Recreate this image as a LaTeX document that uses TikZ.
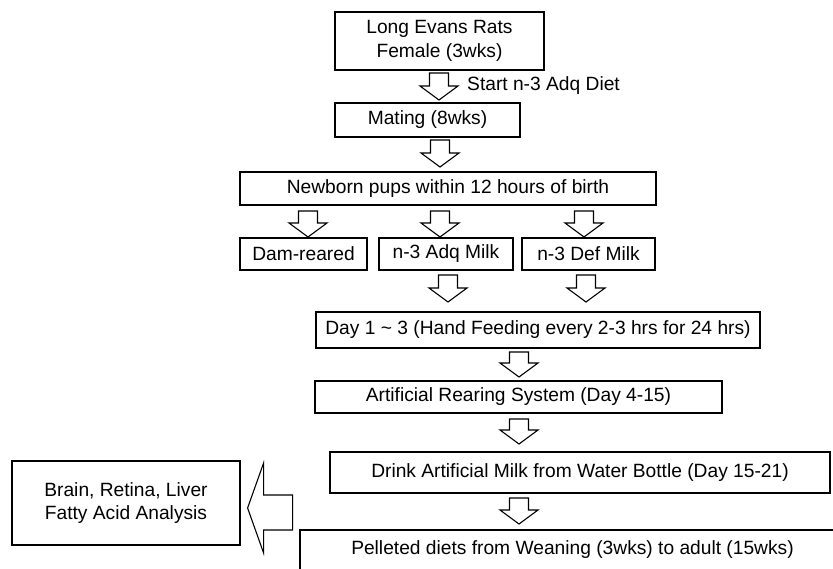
\documentclass[tikz,border=0pt]{standalone}
\usepackage{fontspec}
\setmainfont{Liberation Sans}
\newcommand\darrow[3]{%
  \draw[blk] ({#1-9.5},#2) -- ({#1+9.5},#2) -- ({#1+9.5},{#3-14}) -- ({#1+19},{#3-14}) -- (#1,#3) -- ({#1-19},{#3-14}) -- ({#1-9.5},{#3-14}) -- cycle;}
\begin{document}
\begin{tikzpicture}[x=1pt,y=-1pt,
  box/.style={draw, line width=1.2pt, inner sep=0pt, align=center, font=\fontsize{19.2}{23.5}\selectfont},
  boldbox/.style={box, line width=2.4pt},
  blk/.style={draw, line width=1.1pt, fill=white, line join=miter},
  lbl/.style={inner sep=0pt, font=\fontsize{19.2}{23.5}\selectfont}]
\useasboundingbox (0,0) rectangle (833,569);
\clip (0,0) rectangle (833,569);
\node[box, minimum width=209pt, minimum height=58pt] (rats) at (439.5,41) {Long Evans Rats\\Female (3wks)};
\darrow{439}{73}{100}
\node[lbl, anchor=west] (diet) at (467,86) {Start n-3 Adq Diet};
\node[box, minimum width=185pt, minimum height=34pt] (mating) at (427.5,120) {Mating (8wks)};
\darrow{440}{140}{167}
\node[box, minimum width=416pt, minimum height=33pt] (newborn) at (448,188.5) {Newborn pups within 12 hours of birth};
\darrow{308}{211}{237}
\darrow{440}{211}{237}
\darrow{584}{211}{237}
\node[boldbox, minimum width=127pt, minimum height=32pt] (dam) at (303.5,254) {Dam-reared};
\node[boldbox, minimum width=134pt, minimum height=32pt] (adq) at (446,254) {n-3 Adq Milk};
\node[boldbox, minimum width=133pt, minimum height=32pt] (def) at (588.5,254) {n-3 Def Milk};
\darrow{448}{275}{302}
\darrow{586}{275}{302}
\node[box, minimum width=444pt, minimum height=36pt] (day) at (538,330) {Day 1 \textasciitilde\ 3 (Hand Feeding every 2-3 hrs for 24 hrs)};
\darrow{519}{352}{377}
\node[box, minimum width=407pt, minimum height=32pt] (ars) at (518.5,397) {Artificial Rearing System (Day 4-15)};
\darrow{519}{419}{444}
\node[box, minimum width=500pt, minimum height=41pt] (drink) at (580,472.5) {Drink Artificial Milk from Water Bottle (Day 15-21)};
\darrow{519}{498}{524}
\node[box, minimum width=545pt, minimum height=40pt] (pellet) at (572.5,550) {Pelleted diets from Weaning (3wks) to adult (15wks)};
\node[box, minimum width=228pt, minimum height=84pt] (brain) at (126,503) {Brain, Retina, Liver\\Fatty Acid Analysis};
\draw[blk] (brain.east) ++(7,5) coordinate (tip)
  -- ++(16,-45) -- ++(0,32) -- ++(29,0) -- ++(0,35) -- ++(-29,0) -- ++(0,23) -- cycle;
\end{tikzpicture}
\end{document}
